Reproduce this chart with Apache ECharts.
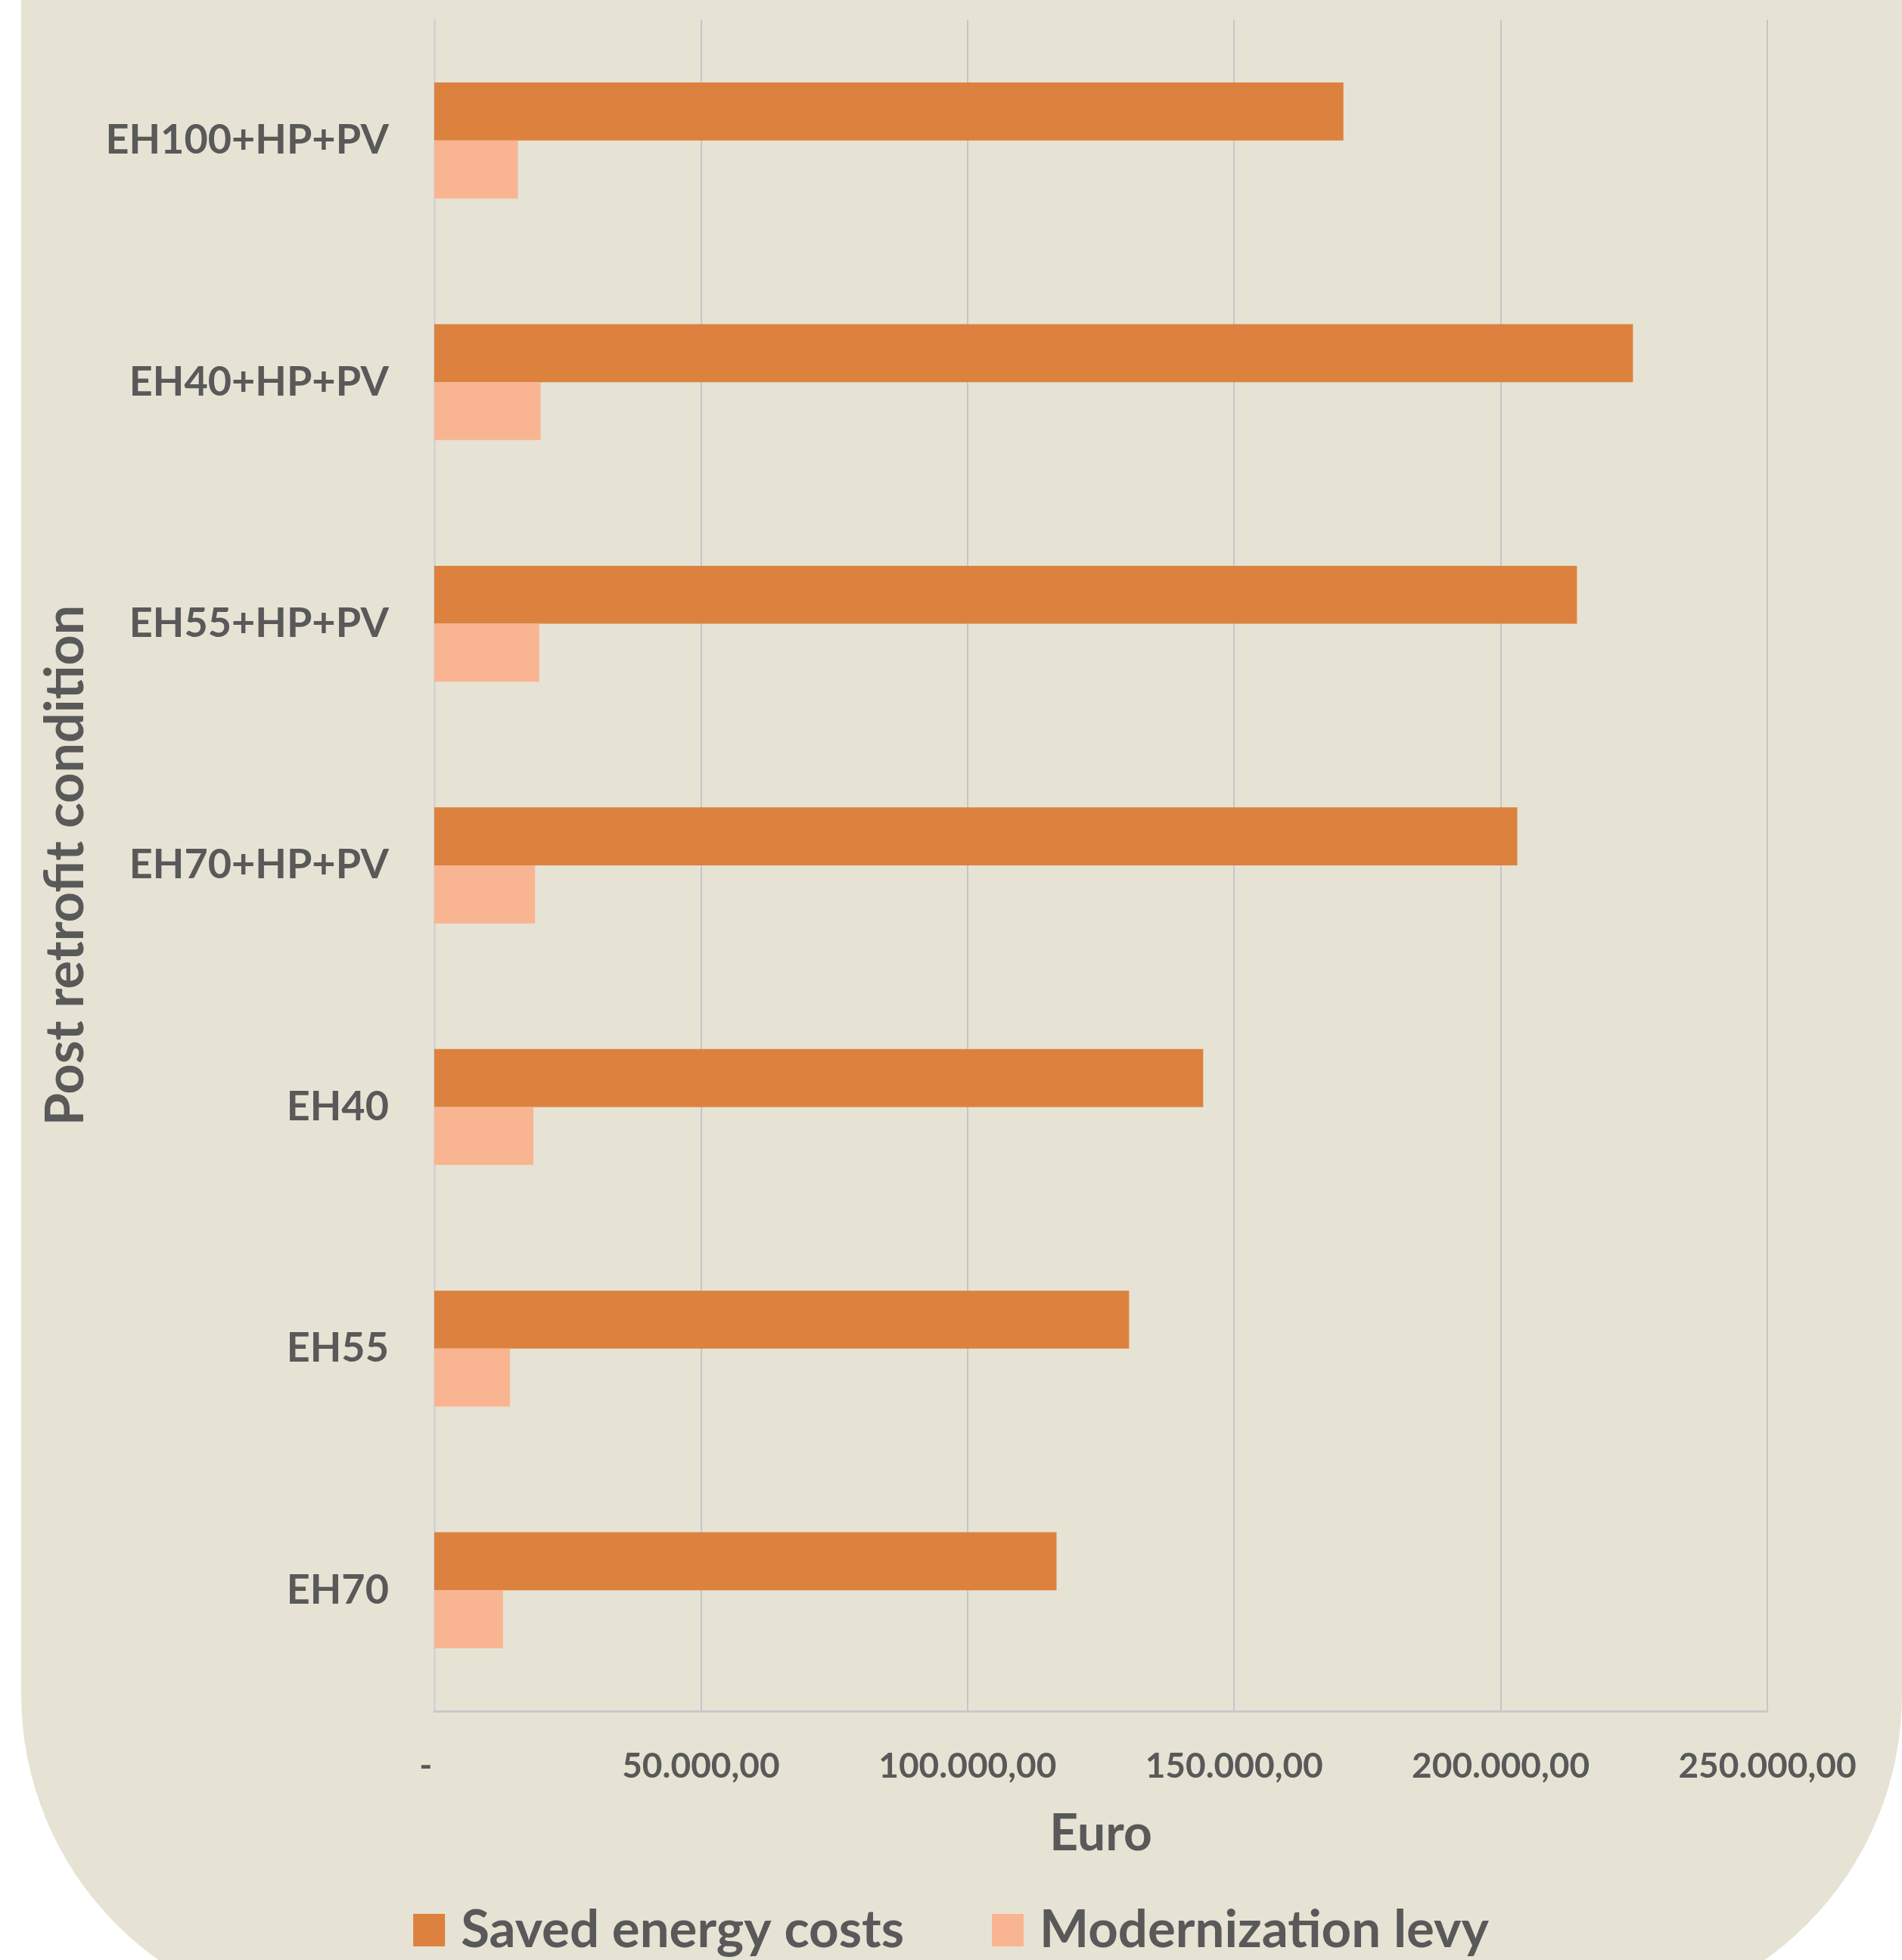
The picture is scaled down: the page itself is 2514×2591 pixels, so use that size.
<!DOCTYPE html>
<html>
<head>
<meta charset="utf-8">
<script src="https://cdn.jsdelivr.net/npm/echarts@6/dist/echarts.min.js"></script>
<style>
    html, body { margin: 0; padding: 0; background: #ffffff; }
    #chart { width: 2514px; height: 2591px; }
</style>
</head>
<body>
<div id="chart"></div>
<script>
// categories, read top to bottom
var categories = ['EH100+HP+PV', 'EH40+HP+PV', 'EH55+HP+PV', 'EH70+HP+PV', 'EH40', 'EH55', 'EH70'];
var savedEnergyCosts = [170500, 224800, 214300, 203100, 144200, 130300, 116700];
var modernizationLevy = [15700, 19950, 19700, 18900, 18600, 14200, 12900];
var xTicks = [0, 50000, 100000, 150000, 200000, 250000];

var textColor = '#595959';
var font = 'Lato';

function euro(v) {
    if (v === 0) return '-  ';
    var s = String(Math.round(v));
    s = s.replace(/\B(?=(\d{3})+(?!\d))/g, '.');
    return s + ',00';
}

var myChart = echarts.init(document.getElementById('chart'));

var option = {
    backgroundColor: '#ffffff',
    graphic: [
        {
            type: 'rect',
            z: -10,
            silent: true,
            shape: { x: 28, y: -20, width: 2486, height: 2690, r: [0, 0, 430, 430] },
            style: { fill: '#e6e3d5' }
        }
    ],
    grid: {
        left: 574,
        right: 2514 - 2336,
        top: 26,
        bottom: 2591 - 2262,
        containLabel: false
    },
    legend: {
        data: ['Saved energy costs', 'Modernization levy'],
        left: 'center',
        top: 2512,
        itemWidth: 42,
        itemHeight: 43,
        itemGap: 116,
        icon: 'rect',
        textStyle: {
            color: textColor,
            fontFamily: font,
            fontWeight: 'bold',
            fontSize: 69,
            padding: [0, 0, 0, 16]
        }
    },
    xAxis: {
        type: 'value',
        min: 0,
        max: 250000,
        interval: 50000,
        name: 'Euro',
        nameLocation: 'middle',
        nameGap: 130,
        nameTextStyle: {
            color: textColor,
            fontFamily: font,
            fontWeight: 'bold',
            fontSize: 66
        },
        axisLine: { show: true, lineStyle: { color: '#c9c9c9', width: 3 } },
        axisTick: { show: false },
        splitLine: { show: true, lineStyle: { color: '#c6c6c6', width: 2 } },
        axisLabel: {
            margin: 50,
            color: textColor,
            fontFamily: font,
            fontWeight: 'bold',
            fontSize: 46,
            formatter: function (v) { return xTicks.indexOf(v) >= 0 ? euro(v) : ''; }
        }
    },
    yAxis: {
        type: 'category',
        inverse: true,
        data: categories,
        name: 'Post retrofit condition',
        nameLocation: 'middle',
        nameRotate: 90,
        nameGap: 452,
        nameTextStyle: {
            color: textColor,
            fontFamily: font,
            fontWeight: 'bold',
            fontSize: 70
        },
        axisLine: { show: true, lineStyle: { color: '#d4d4d4', width: 3 } },
        axisTick: { show: false },
        splitLine: { show: false },
        axisLabel: {
            margin: 60,
            color: textColor,
            fontFamily: font,
            fontWeight: 'bold',
            fontSize: 54
        }
    },
    series: [
        {
            name: 'Saved energy costs',
            type: 'bar',
            data: savedEnergyCosts,
            barGap: '0%',
            barCategoryGap: '52%',
            itemStyle: { color: '#dc823e' },
            silent: true
        },
        {
            name: 'Modernization levy',
            type: 'bar',
            data: modernizationLevy,
            barGap: '0%',
            barCategoryGap: '52%',
            itemStyle: { color: '#f9b591' },
            silent: true
        }
    ],
    animation: false
};

myChart.setOption(option);
window.addEventListener('resize', function () { myChart.resize(); });
</script>
</body>
</html>
